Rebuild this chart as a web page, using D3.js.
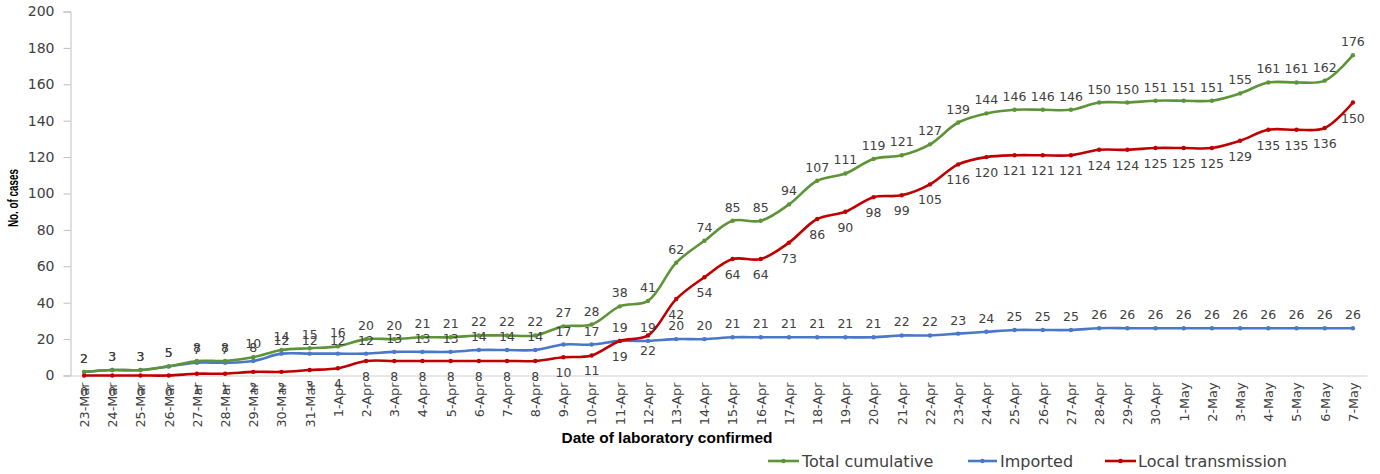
<!DOCTYPE html>
<html>
<head>
<meta charset="utf-8">
<script src="https://cdn.jsdelivr.net/npm/d3@7"></script>
<style>
  html, body { margin: 0; padding: 0; background: #fff; }
  svg { display: block; }
</style>
</head>
<body>
<svg id="chart" width="1380" height="474"></svg>
<script>
const dates = ["23-Mar","24-Mar","25-Mar","26-Mar","27-Mar","28-Mar","29-Mar","30-Mar","31-Mar",
  "1-Apr","2-Apr","3-Apr","4-Apr","5-Apr","6-Apr","7-Apr","8-Apr","9-Apr","10-Apr","11-Apr","12-Apr",
  "13-Apr","14-Apr","15-Apr","16-Apr","17-Apr","18-Apr","19-Apr","20-Apr","21-Apr","22-Apr","23-Apr",
  "24-Apr","25-Apr","26-Apr","27-Apr","28-Apr","29-Apr","30-Apr",
  "1-May","2-May","3-May","4-May","5-May","6-May","7-May"];
const totalCumulative = [2,3,3,5,8,8,10,14,15,16,20,20,21,21,22,22,22,27,28,38,41,62,74,85,85,94,107,111,119,121,127,139,144,146,146,146,150,150,151,151,151,155,161,161,162,176];
const imported = [2,3,3,5,7,7,8,12,12,12,12,13,13,13,14,14,14,17,17,19,19,20,20,21,21,21,21,21,21,22,22,23,24,25,25,25,26,26,26,26,26,26,26,26,26,26];
const localTransmission = [0,0,0,0,1,1,2,2,3,4,8,8,8,8,8,8,8,10,11,19,22,42,54,64,64,73,86,90,98,99,105,116,120,121,121,121,124,124,125,125,125,129,135,135,136,150];
const yTicks = [0,20,40,60,80,100,120,140,160,180,200];
const seriesNames = ["Total cumulative","Imported","Local transmission"];
const seriesColors = ["#5E9438","#4A78C9","#C00000"];

const svg = d3.select("#chart");
const x = d3.scaleBand().domain(dates).range([70, 1367]);
const cx = d => x(d) + x.bandwidth() / 2;
const y = d3.scaleLinear().domain([0, 200]).range([375.5, 11.5]);

// Y axis
const yAxis = d3.axisLeft(y).tickValues(yTicks).tickSize(7).tickPadding(9);
const gy = svg.append("g").attr("transform", "translate(70.5,0)").call(yAxis);
gy.select(".domain").attr("stroke", "#bfbfbf");
gy.selectAll(".tick line").attr("stroke", "#bfbfbf");
gy.selectAll(".tick text").attr("font-family", "DejaVu Sans").attr("font-size", 14).attr("fill", "#404040");

// X axis
const xAxis = d3.axisBottom(x).tickSize(0).tickPadding(0);
const gx = svg.append("g").attr("transform", "translate(0,375.5)").call(xAxis);
gx.select(".domain").attr("stroke", "#d0d0d0").attr("stroke-width", 1.2);
gx.selectAll(".tick text")
  .attr("font-family", "DejaVu Sans").attr("font-size", 12.8).attr("fill", "#404040")
  .attr("transform", "rotate(-90)")
  .attr("text-anchor", "end")
  .attr("x", -7).attr("y", 0).attr("dy", "0.38em");

// Axis titles
svg.append("text")
  .attr("transform", "translate(18,198) rotate(-90)")
  .attr("text-anchor", "middle")
  .attr("font-family", "Liberation Sans").attr("font-weight", "bold").attr("font-size", 14.5)
  .attr("textLength", 58).attr("lengthAdjust", "spacingAndGlyphs")
  .attr("fill", "#000")
  .text("No. of cases");
svg.append("text")
  .attr("x", 667).attr("y", 443)
  .attr("text-anchor", "middle")
  .attr("font-family", "Liberation Sans").attr("font-weight", "bold").attr("font-size", 15)
  .attr("textLength", 211).attr("lengthAdjust", "spacingAndGlyphs")
  .attr("fill", "#000")
  .text("Date of laboratory confirmed");

const series = [totalCumulative, imported, localTransmission];
const line = d3.line().x((d, i) => cx(dates[i])).y(d => y(d)).curve(d3.curveCatmullRom.alpha(0.5));

// Draw lines in order: imported, local, total (total on top)
[1, 2, 0].forEach(si => {
  svg.append("path").datum(series[si])
    .attr("d", line).attr("fill", "none")
    .attr("stroke", seriesColors[si]).attr("stroke-width", 2.6)
    .attr("stroke-linejoin", "round");
  svg.append("g").selectAll("circle").data(series[si]).join("circle")
    .attr("cx", (d, i) => cx(dates[i])).attr("cy", d => y(d)).attr("r", 2.2)
    .attr("fill", seriesColors[si]);
});

// Data labels
const labelOffsets = [-9, -9, 20];
series.forEach((s, si) => {
  svg.append("g").selectAll("text").data(s).join("text")
    .attr("x", (d, i) => cx(dates[i])).attr("y", d => y(d) + labelOffsets[si])
    .attr("text-anchor", "middle")
    .attr("font-family", "DejaVu Sans").attr("font-size", 12.5).attr("fill", "#404040")
    .text(d => d);
});

// Legend
const legendItems = [
  {x1: 768, x2: 799, tx: 802},
  {x1: 968, x2: 997, tx: 1000},
  {x1: 1105, x2: 1136, tx: 1138}
];
legendItems.forEach((it, i) => {
  const g = svg.append("g");
  g.append("line").attr("x1", it.x1).attr("x2", it.x2).attr("y1", 461).attr("y2", 461)
    .attr("stroke", seriesColors[i]).attr("stroke-width", 2.6);
  g.append("circle").attr("cx", (it.x1 + it.x2) / 2).attr("cy", 461).attr("r", 2.2).attr("fill", seriesColors[i]);
  g.append("text").attr("x", it.tx).attr("y", 467)
    .attr("font-family", "DejaVu Sans").attr("font-size", 16).attr("fill", "#404040")
    .text(seriesNames[i]);
});
</script>
</body>
</html>
